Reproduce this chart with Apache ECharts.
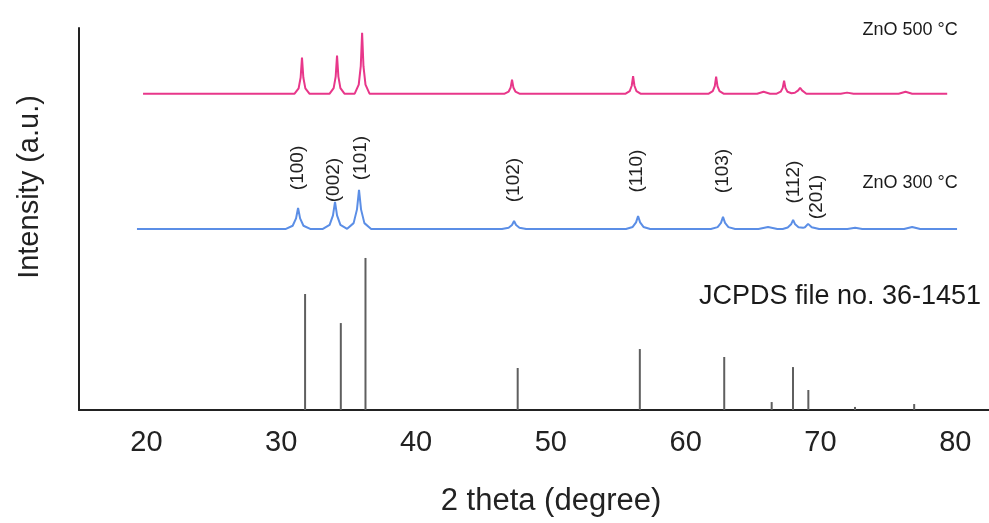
<!DOCTYPE html>
<html>
<head>
<meta charset="utf-8">
<script src="https://cdn.jsdelivr.net/npm/echarts@6/dist/echarts.min.js"></script>
<style>
html,body{margin:0;padding:0;background:#fff;}
#chart{width:989px;height:523px;}
</style>
</head>
<body>
<div id="chart"></div>
<script>
// ---- data (2 theta in degrees, intensity in arbitrary units) ----
const xTicks = [20, 30, 40, 50, 60, 70, 80];

const zno500 = [
  [19.75,207],
  [30.99,207],[31.29,210.5],[31.44,217.6],[31.54,230.6],[31.64,217.6],[31.79,210.5],[32.09,207],
  [33.59,207],[33.89,210.7],[34.04,218.2],[34.14,231.9],[34.24,218.2],[34.39,210.7],[34.69,207],
  [35.45,207],[35.75,213],[35.9,225],[36.0,246.9],[36.1,225],[36.25,213],[36.55,207],
  [46.57,207],[46.87,208.4],[47.02,211.1],[47.12,216.2],[47.22,211.1],[47.37,208.4],[47.67,207],
  [55.55,207],[55.85,208.7],[56.0,212.2],[56.1,218.5],[56.2,212.2],[56.35,208.7],[56.65,207],
  [61.71,207],[62.01,208.7],[62.16,212],[62.26,218.1],[62.36,212],[62.51,208.7],[62.81,207],
  [65.3,207],[65.78,208.3],[66.26,207],
  [66.75,207],[67.05,208.3],[67.2,210.8],[67.3,215.5],[67.4,210.8],[67.55,208.3],[67.85,207.3],
  [68.1,207.6],[68.35,209.2],[68.49,210.9],[68.63,209.2],[68.95,207],
  [71.5,207],[71.97,207.7],[72.45,207],
  [75.8,207],[76.31,208.3],[76.8,207],
  [79.4,207]
];

const zno300 = [
  [19.3,118.5],
  [30.35,118.5],[30.85,120.6],[31.1,125.4],[31.25,132.2],[31.4,125.4],[31.65,120.6],[32.15,118.5],
  [33.09,118.5],[33.59,121.2],[33.84,127.4],[33.99,136.2],[34.14,127.4],[34.39,121.2],[34.89,118.6],
  [35.0,119],[35.37,122.3],[35.62,131.3],[35.77,144],[35.92,131.3],[36.17,122.3],[36.67,118.5],
  [46.37,118.5],[46.87,119.3],[47.12,121.1],[47.27,123.7],[47.42,121.1],[47.67,119.3],[48.17,118.5],
  [55.57,118.5],[56.07,119.8],[56.32,122.8],[56.47,127],[56.62,122.8],[56.87,119.8],[57.37,118.5],
  [61.87,118.5],[62.37,119.7],[62.62,122.5],[62.77,126.4],[62.92,122.5],[63.17,119.7],[63.67,118.5],
  [65.4,118.5],[66.11,119.8],[66.8,118.5],
  [67.2,118.5],[67.57,119.4],[67.82,121.5],[67.97,124.4],[68.12,121.5],[68.37,119.6],[68.7,119.2],
  [68.85,119.6],[69.08,121.8],[69.35,119.6],[69.9,118.5],
  [72.0,118.5],[72.57,119.2],[73.1,118.5],
  [76.2,118.5],[76.8,119.8],[77.4,118.5],
  [80.13,118.5]
];

const jcpdsPos = [31.77, 34.42, 36.25, 47.54, 56.60, 62.86, 66.38, 67.96, 69.10, 72.56, 76.95];
const jcpdsInt = [75.9, 56.9, 99.5, 27.5, 39.9, 34.7, 5.2, 28.1, 13.1, 2.0, 3.9];

const hklLabels = ['(100)','(002)','(101)','(102)','(110)','(103)','(112)','(201)'];
const hklX = [31.25, 33.92, 35.92, 47.27, 56.4, 62.77, 68.04, 69.75];
const hklY = [158.4, 150.5, 164.9, 150.5, 156.4, 156.4, 149.2, 139.4];

const curveNames = ['ZnO 500 °C', 'ZnO 300 °C', 'JCPDS file no. 36-1451'];
const curveLabelX = [76.65, 76.65, 71.45];
const curveLabelY = [248.7, 148.6, 74];

// ---- chart ----
const FONT = '"Liberation Sans", Arial, sans-serif';
const chart = echarts.init(document.getElementById('chart'), null, {renderer: 'canvas'});

const jcpdsData = jcpdsPos.map((p, i) => [p, jcpdsInt[i]]);
const hklData = hklLabels.map((t, i) => ({value: [hklX[i], hklY[i]], name: t}));
const nameData = curveNames.map((t, i) => ({
  value: [curveLabelX[i], curveLabelY[i]], name: t,
  label: {fontSize: i === 2 ? 27 : 18}
}));

chart.setOption({
  animation: false,
  backgroundColor: '#ffffff',
  grid: {left: 79, right: 0, top: 28, bottom: 113, containLabel: false},
  xAxis: {
    type: 'value', min: 15, max: 82.5,
    name: '2 theta (degree)', nameLocation: 'middle', nameGap: 76,
    nameTextStyle: {fontFamily: FONT, fontSize: 31, color: '#222', padding: [0, 0, 0, 34]},
    axisLine: {show: true, lineStyle: {color: '#222', width: 2}},
    axisTick: {show: false},
    splitLine: {show: false},
    axisLabel: {customValues: xTicks, fontFamily: FONT, fontSize: 29, color: '#222', margin: 18}
  },
  yAxis: {
    type: 'value', min: 0, max: 250,
    name: 'Intensity (a.u.)', nameLocation: 'middle', nameGap: 35,
    nameTextStyle: {fontFamily: FONT, fontSize: 29, color: '#222', padding: [0, 0, 0, 64]},
    axisLine: {show: true, lineStyle: {color: '#222', width: 2}},
    axisTick: {show: false},
    axisLabel: {show: false},
    splitLine: {show: false}
  },
  series: [
    {
      type: 'line', name: 'ZnO 500', data: zno500, showSymbol: false, smooth: false,
      lineStyle: {color: '#e8378a', width: 2}, z: 3
    },
    {
      type: 'line', name: 'ZnO 300', data: zno300, showSymbol: false, smooth: false,
      lineStyle: {color: '#5b8ee6', width: 2}, z: 3
    },
    {
      type: 'bar', name: 'JCPDS', data: jcpdsData, barWidth: 2,
      itemStyle: {color: '#5f5f5f'}, z: 2
    },
    {
      type: 'scatter', data: hklData, symbolSize: 0, silent: true,
      itemStyle: {opacity: 1, color: 'rgba(0,0,0,0)'},
      label: {show: true, position: 'inside', rotate: 90, formatter: p => p.name,
        fontFamily: FONT, fontSize: 19, color: '#222', opacity: 1}
    },
    {
      type: 'scatter', data: nameData, symbolSize: 0, silent: true,
      itemStyle: {opacity: 1, color: 'rgba(0,0,0,0)'},
      label: {show: true, position: 'inside', formatter: p => p.name,
        fontFamily: FONT, color: '#1a1a1a', opacity: 1}
    }
  ]
});
</script>
</body>
</html>
